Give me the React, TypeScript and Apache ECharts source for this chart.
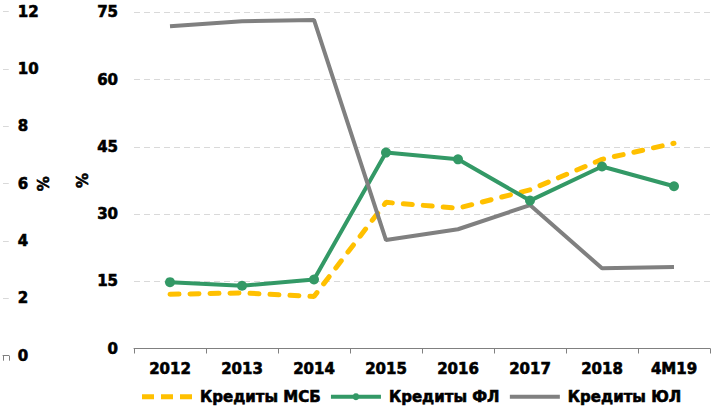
import React, { useEffect, useRef } from "react";
import * as echarts from "echarts";

const categories = ["2012", "2013", "2014", "2015", "2016", "2017", "2018", "4M19"];
const msbValues = [12.1, 12.4, 11.6, 32.6, 31.3, 35.4, 42.2, 45.8];
const flValues = [14.8, 14.0, 15.4, 43.7, 42.2, 33.0, 40.6, 36.2];
const ulValues = [71.9, 73.0, 73.3, 24.2, 26.6, 32.0, 17.9, 18.2];
const seriesNames = ["Кредиты МСБ", "Кредиты ФЛ", "Кредиты ЮЛ"];
const leftTicks = { min: 0, max: 12, interval: 2 };
const rightTicks = { min: 0, max: 75, interval: 15 };

const FONT = "DejaVu Sans";
const GRID_COLOR = "#D9D9D9";
const AXIS_COLOR = "#808080";

// legend icons (drawn 50 px wide; aspect kept)
const ICON_DASHED = "path://M0,0H12V5H0Z M19,0H31V5H19Z M38,0H50V5H38Z";
const ICON_LINE_DOT =
  "path://M0,1.5H22.13A3.5,3.5 0 0 1 27.87,1.5H50V5.5H27.87A3.5,3.5 0 0 1 22.13,5.5H0Z";
const ICON_LINE = "path://M0,0H50V4H0Z";

export default function App() {
  const ref = useRef<HTMLDivElement>(null);
  useEffect(() => {
    if (!ref.current) return;
    const chart = echarts.init(ref.current, undefined, { renderer: "svg" });
    const labelStyle = {
      color: "#000",
      fontFamily: FONT,
      fontWeight: "bold" as const,
      fontSize: 15,
      textBorderColor: "#000",
      textBorderWidth: 0.6,
    };
    chart.setOption({
      animation: false,
      textStyle: { fontFamily: FONT },
      grid: [
        { left: -20, width: 23, top: 11.7, height: 344 },
        { left: 134, right: 1, top: 12.3, height: 336.2 },
      ],
      xAxis: [
        {
          gridIndex: 0,
          type: "category",
          data: [""],
          axisLine: { show: true, lineStyle: { color: AXIS_COLOR, width: 1 } },
          axisTick: { show: true, length: 5, lineStyle: { color: AXIS_COLOR } },
          axisLabel: { show: false },
          splitLine: { show: false },
        },
        {
          gridIndex: 1,
          type: "category",
          data: categories,
          axisLine: { show: true, lineStyle: { color: AXIS_COLOR, width: 1 } },
          axisTick: { show: true, length: 5, lineStyle: { color: AXIS_COLOR } },
          axisLabel: { ...labelStyle, margin: 13, interval: 0 },
          splitLine: { show: false },
        },
      ],
      yAxis: [
        {
          gridIndex: 0,
          type: "value",
          position: "right",
          min: leftTicks.min,
          max: leftTicks.max,
          interval: leftTicks.interval,
          axisLine: { show: false },
          axisTick: { show: false },
          axisLabel: { ...labelStyle, margin: 9 },
          splitLine: { show: true, lineStyle: { color: GRID_COLOR, type: [6, 4], width: 1 } },
          name: "%",
          nameLocation: "middle",
          nameRotate: 90,
          nameGap: 28,
          nameMoveOverlap: false,
          nameTextStyle: { ...labelStyle },
        },
        {
          gridIndex: 1,
          type: "value",
          position: "left",
          min: rightTicks.min,
          max: rightTicks.max,
          interval: rightTicks.interval,
          axisLine: { show: false },
          axisTick: { show: false },
          axisLabel: { ...labelStyle, margin: 16 },
          splitLine: { show: true, lineStyle: { color: GRID_COLOR, type: [6, 4], width: 1 } },
          name: "%",
          nameLocation: "middle",
          nameRotate: 90,
          nameGap: 44,
          nameMoveOverlap: false,
          nameTextStyle: { ...labelStyle },
        },
      ],
      legend: {
        left: 142,
        top: 389,
        padding: 0,
        itemWidth: 50,
        itemHeight: 8,
        itemGap: 10,
        data: [
          { name: seriesNames[0], icon: ICON_DASHED },
          { name: seriesNames[1], icon: ICON_LINE_DOT },
          { name: seriesNames[2], icon: ICON_LINE },
        ],
        textStyle: { ...labelStyle, padding: [0, 0, 0, 3] },
      },
      series: [
        {
          name: seriesNames[0],
          type: "line",
          xAxisIndex: 1,
          yAxisIndex: 1,
          data: msbValues,
          symbol: "none",
          color: "#FFC000",
          lineStyle: { color: "#FFC000", width: 5, type: [9, 11], cap: "round" },
        },
        {
          name: seriesNames[1],
          type: "line",
          xAxisIndex: 1,
          yAxisIndex: 1,
          data: flValues,
          symbol: "circle",
          symbolSize: 10,
          color: "#339966",
          itemStyle: { color: "#339966" },
          lineStyle: { color: "#339966", width: 4 },
        },
        {
          name: seriesNames[2],
          type: "line",
          xAxisIndex: 1,
          yAxisIndex: 1,
          data: ulValues,
          symbol: "none",
          color: "#808080",
          lineStyle: { color: "#808080", width: 4 },
        },
      ],
    });
    return () => chart.dispose();
  }, []);
  return (
    <div
      ref={ref}
      style={{ position: "fixed", left: 0, top: 0, width: 711, height: 413, background: "#fff" }}
    />
  );
}
